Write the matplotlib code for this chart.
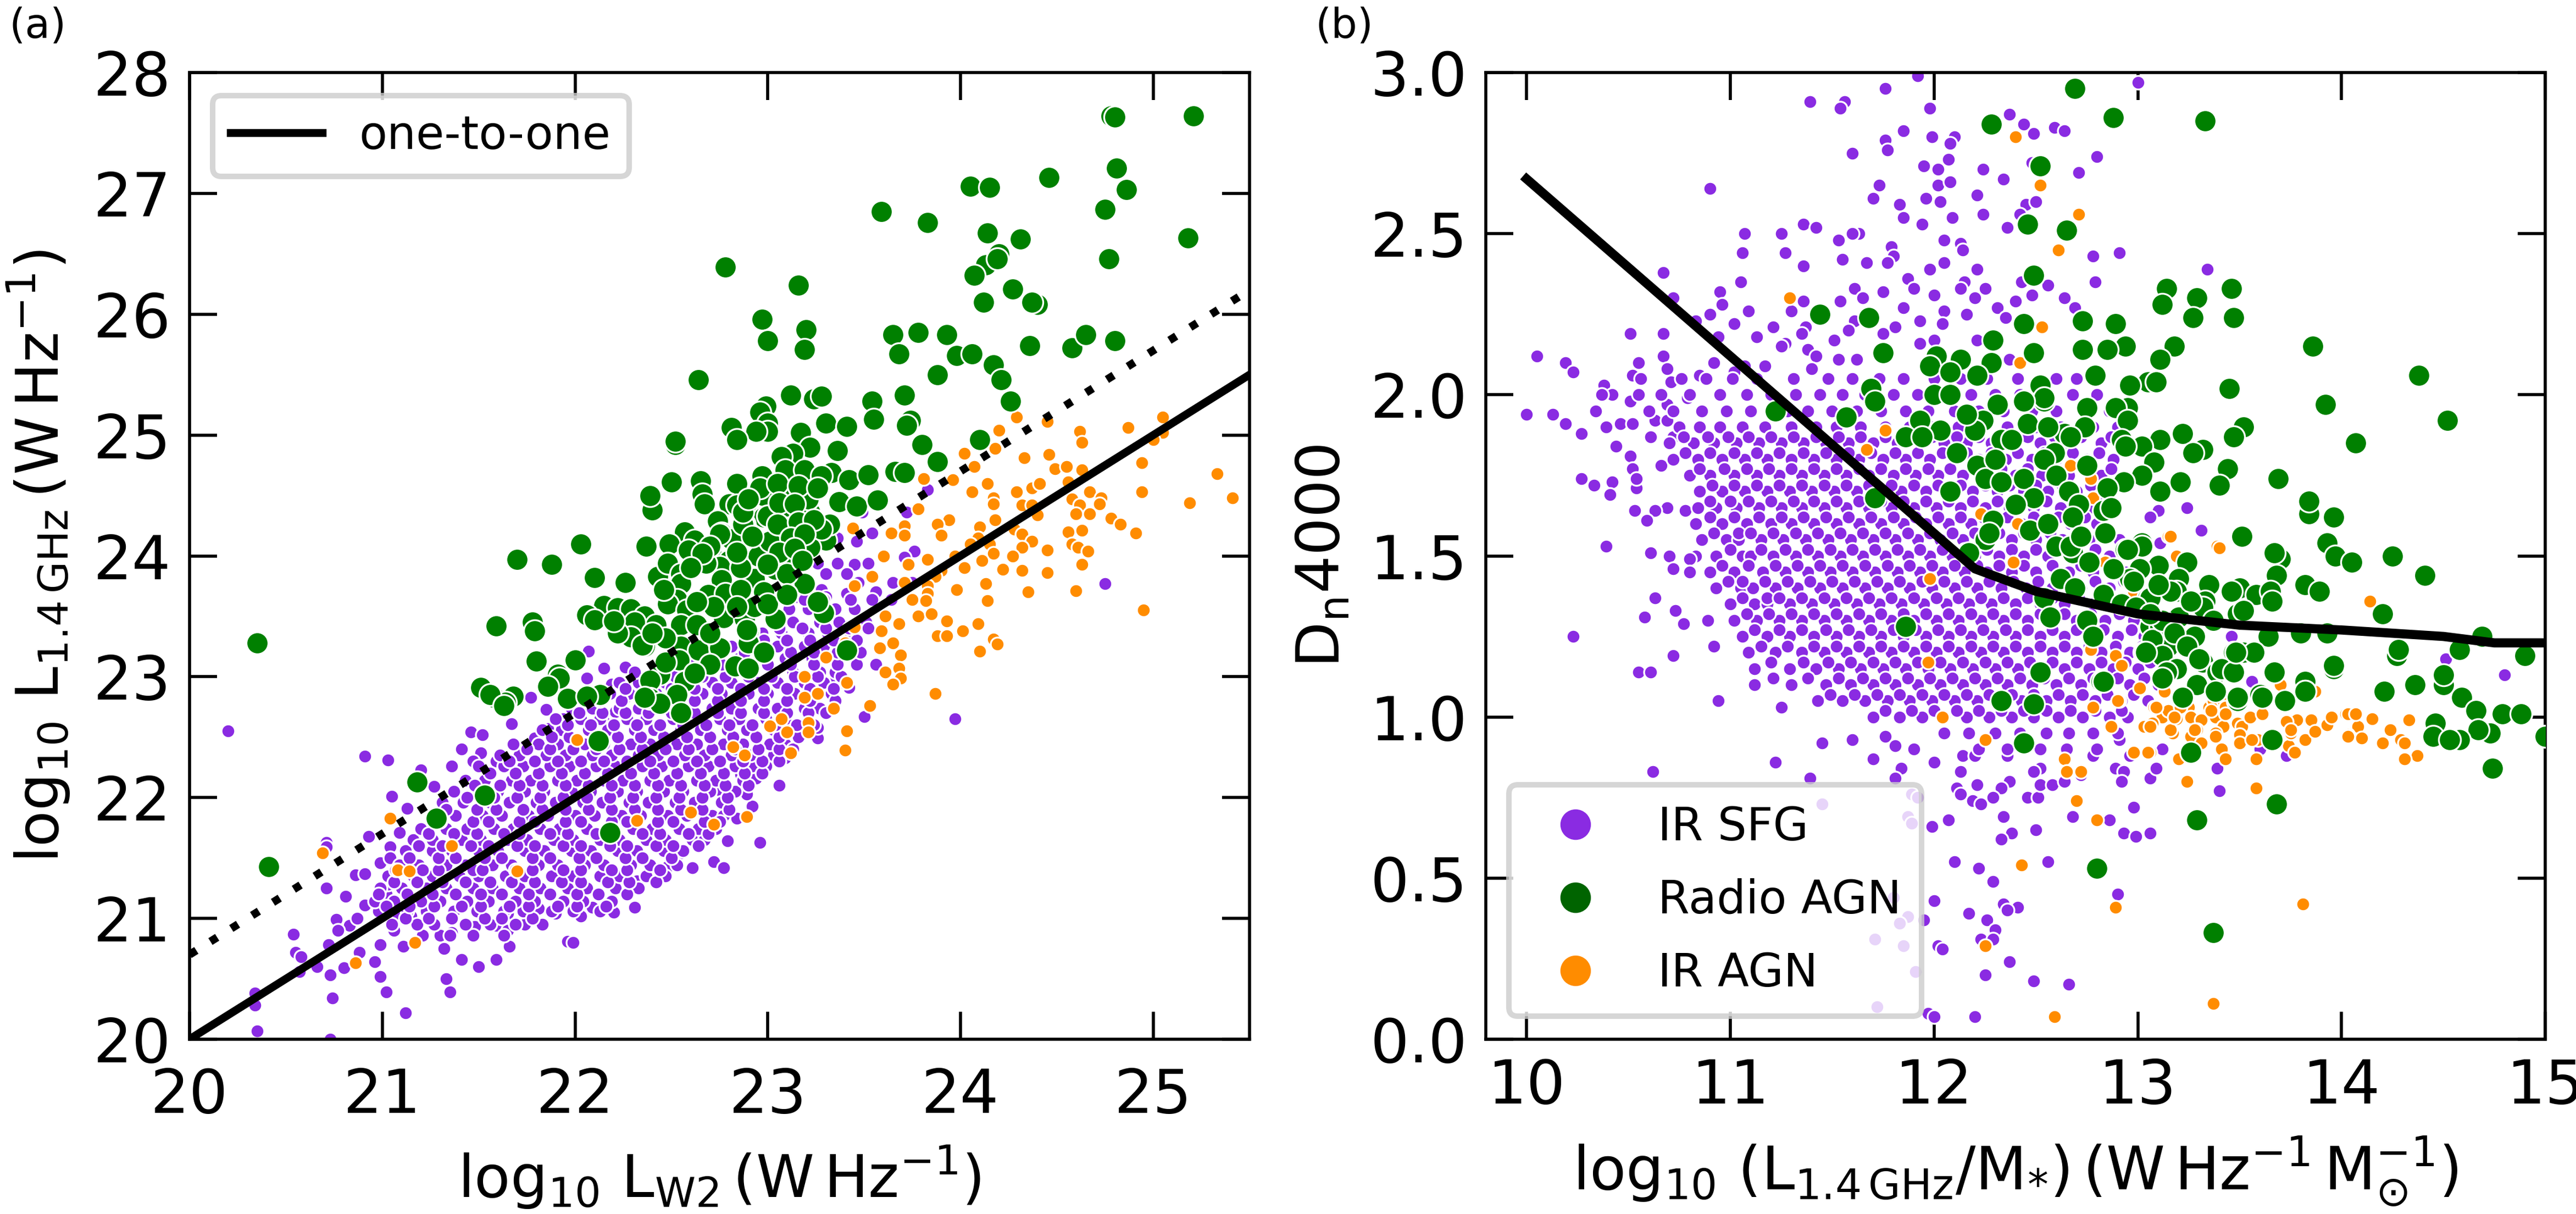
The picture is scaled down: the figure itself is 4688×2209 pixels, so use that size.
import numpy as np
import matplotlib
matplotlib.use('Agg')
import matplotlib.pyplot as plt
from matplotlib.lines import Line2D

plt.rcParams['mathtext.default'] = 'regular'

# ---- panel (a): log L_W2 vs log L_1.4GHz ----
green_a = [(24.78,27.64),(24.80,27.63),(25.21,27.64),(24.81,27.21),(24.46,27.13),(24.05,27.06),(24.15,27.05),(24.86,27.03),
(24.75,26.87),(23.59,26.85),(23.83,26.76),(24.14,26.67),(24.31,26.62),(25.18,26.63),(24.77,26.46),(24.2,26.5),(24.13,26.41),
(24.19,26.46),(24.07,26.32),(22.78,26.39),(23.16,26.24),(24.27,26.21),(24.4,26.08),(24.37,26.10),(24.12,26.10),(22.97,25.96),
(23.2,25.87),(23.0,25.78),(23.19,25.71),(23.65,25.83),(23.78,25.85),(23.93,25.83),(23.68,25.67),(23.98,25.66),(24.06,25.67),
(24.36,25.74),(24.58,25.72),(24.65,25.83),(24.8,25.78),(24.17,25.58),(24.21,25.46),(23.88,25.5),(22.64,25.46),(24.26,25.28),
(23.71,25.33),(23.24,25.3),(23.28,25.32),(23.12,25.33),(23.54,25.28),(22.99,25.24),(22.96,25.19),(23.55,25.13),(23.74,25.12),
(23.72,25.08),(23.3,25.1),(23.41,25.07),(23.0,25.1),(23.0,25.03),(22.94,25.03),(22.81,25.06),(22.84,24.96),(22.52,24.92),(22.52,24.95),
(23.17,25.02),(24.1,24.96),(23.8,24.92),(23.22,24.9),(23.36,24.87),(23.88,24.78),(23.13,24.85),(23.07,24.82),(23.09,24.71),
(23.33,24.69),(23.19,24.71),(23.28,24.66),(23.42,24.63),(23.52,24.67),(23.66,24.7),(23.71,24.69),(22.97,24.66),(22.5,24.61),
(22.65,24.62),(22.84,24.6),(22.4,24.38),(22.39,24.5),(22.66,24.51),(22.67,24.43),(22.8,24.43),(22.98,24.5),(23.37,24.45),(23.46,24.41),
(23.57,24.46),(23.13,24.5),(23.11,24.39),(23.17,24.36),(23.22,24.36),(23.21,24.47),(22.96,24.56),(22.84,24.42),(22.9,24.34),
(22.98,24.32),(22.74,24.29),(22.88,24.26),(22.76,24.19),(22.81,24.14),(23.01,24.11),(22.57,24.20),(22.62,24.13),(22.49,24.10),
(22.59,24.05),(22.37,24.08),(22.03,24.10),(21.70,23.97),(21.88,23.93),(22.10,23.82),(22.26,23.78),(22.43,23.83),(22.48,23.94),
(22.55,23.85),(22.55,23.77),(22.67,23.93),(22.72,23.98),(22.80,23.96),(22.75,23.91),(22.95,24.0),(22.76,23.80),(22.93,23.81),
(23.04,23.89),(22.69,23.68),(22.78,23.69),(22.53,23.64),(22.48,23.6),(22.58,23.55),(22.15,23.59),(22.22,23.57),(22.29,23.56),
(22.36,23.50),(22.06,23.51),(22.10,23.47),(21.78,23.45),(21.79,23.38),(21.59,23.42),(22.42,23.43),(22.31,23.45),(22.29,23.33),
(22.36,23.25),(22.55,23.43),(22.77,23.49),(22.88,23.48),(22.90,23.38),(23.04,23.48),(22.55,23.25),(22.64,23.22),(22.75,23.24),
(22.90,23.28),(22.54,23.14),(22.83,23.09),(22.90,23.07),(21.80,23.13),(22.0,23.14),(21.91,23.02),(21.92,22.99),(21.86,22.92),
(22.44,23.02),(22.39,22.97),(22.57,22.96),(22.13,22.85),(21.96,22.82),(21.68,22.84),(21.58,22.83),(21.64,22.79),(22.39,22.82),
(22.53,22.85),(22.44,22.78),(22.06,22.84),(21.51,22.91),(21.56,22.85),(21.63,22.76),(22.36,22.83),(22.55,22.70),(23.41,23.22),
(23.29,23.53),(22.89,23.39),(22.35,23.26),(20.35,23.28),(22.12,22.47),(21.18,22.13),(21.53,22.02),(21.28,21.83),(22.18,21.71),
(20.41,21.43),(23.27,24.18),(23.0,24.33),(22.87,24.26),(22.75,24.18),(23.01,24.12),(22.68,23.94),(23.3,24.13),(23.22,24.07),
(23.32,24.26),(23.1,23.97),(23.28,24.22),(22.87,24.36),(22.9,24.47),(23.1,24.23),(23.19,23.77),(23.1,23.85),
(23.05,24.6),(23.16,24.58),(23.26,24.56),(23.06,24.44),(23.14,24.43),(23.05,24.26),(23.16,24.28),(23.24,24.3),(23.12,24.15),(23.19,24.18),
(23.06,24.03),(23.14,24.06),(23.18,23.96),(23.0,23.93),(22.86,23.9),(22.84,24.03),(22.92,24.16),(22.7,24.08),(22.66,24.02),(22.6,23.9),
(22.86,23.72),(22.98,23.7),(22.93,23.58),(22.72,23.58),(22.84,23.58),(22.63,23.62),(22.46,23.72),(22.63,23.43),(22.7,23.36),(22.47,23.32),
(22.47,23.12),(22.7,23.1),(22.62,23.03),(23.0,23.6),(23.1,23.68),(22.98,23.2),(22.4,23.36),(22.22,23.36),(22.2,23.46),(23.26,23.62)]

orange_a = [(25.05,25.15),(24.87,25.06),(25.05,25.02),(25.0,24.96),(24.62,25.03),(24.63,24.94),(24.45,25.11),(24.29,25.15),(24.2,25.04),
(24.18,24.89),(24.02,24.85),(24.07,24.74),(24.33,24.81),(24.46,24.84),(24.94,24.77),(24.49,24.72),(24.55,24.74),(24.63,24.71),(25.33,24.68),
(23.81,24.64),(23.96,24.63),(24.14,24.6),(24.37,24.56),(24.41,24.6),(24.29,24.53),(24.06,24.53),(24.56,24.61),(24.67,24.53),(24.73,24.48),
(24.94,24.53),(24.58,24.47),(24.17,24.48),(24.17,24.43),(24.32,24.42),(24.37,24.42),(24.62,24.42),(24.72,24.43),(25.19,24.44),(25.41,24.48),
(23.78,24.39),(24.4,24.34),(24.6,24.35),(24.67,24.35),(23.94,24.3),(23.88,24.26),(24.18,24.3),(24.1,24.24),(23.9,24.17),(24.78,24.31),
(24.83,24.26),(24.91,24.19),(24.56,24.2),(24.63,24.21),(24.28,24.22),(24.32,24.18),(24.09,24.15),(23.44,24.23),(23.71,24.25),(23.64,24.19),
(23.71,24.17),(24.15,24.1),(24.05,24.1),(24.37,24.12),(24.32,24.07),(24.45,24.05),(24.58,24.1),(24.61,24.07),(24.66,24.04),(24.17,24.02),
(24.27,24.0),(23.6,24.0),(23.83,23.97),(23.97,24.0),(24.11,23.96),(23.73,23.93),(24.63,23.93),(24.02,23.9),(23.9,23.88),(24.22,23.89),
(24.32,23.88),(24.45,23.86),(23.54,23.83),(23.87,23.83),(23.71,23.78),(23.83,23.75),(23.98,23.72),(24.13,23.77),(24.35,23.7),(24.6,23.71),
(23.83,23.69),(23.75,23.64),(23.82,23.63),(24.14,23.63),(23.45,23.75),(24.95,23.55),(23.78,23.5),(23.85,23.52),(23.93,23.46),(24.09,23.44),
(24.01,23.38),(23.88,23.34),(23.93,23.34),(24.17,23.31),(24.19,23.27),(24.1,23.21),(23.61,23.5),(23.68,23.44),(23.59,23.38),(23.45,23.41),
(23.65,23.28),(23.58,23.24),(23.69,23.18),(23.4,23.28),(23.3,23.16),(23.68,23.07),(23.61,23.04),(23.69,22.99),(23.65,22.94),(23.87,22.86),
(23.19,23.0),(23.41,22.95),(23.26,22.86),(23.19,22.83),(23.34,22.74),(23.53,22.76),(23.07,22.65),(23.01,22.59),(23.21,22.62),(23.1,22.54),
(23.21,22.54),(23.41,22.55),(23.4,22.39),(23.12,22.37),(22.88,22.35),(22.82,22.42),(22.01,22.48),(22.89,21.84),(22.72,21.78),(21.04,21.83),
(20.69,21.54),(21.08,21.4),(21.14,21.39),(21.36,21.6),(21.17,20.8),(20.86,20.63),(21.7,21.39),(22.6,21.88),(22.32,21.81)]

purple_a = [(20.20,22.55),(20.91,22.34),(21.03,22.31),(20.34,20.38),(20.34,20.28),(20.35,20.07),(20.73,20.0),(20.74,20.34),(21.02,20.39),
(21.12,20.22),(21.35,20.39),(21.33,20.5),(20.99,20.52),(20.73,20.53),(20.57,20.56),(20.66,20.6),(20.8,20.59),(20.96,20.64),(20.54,20.87),
(20.55,20.72),(20.58,20.68),(20.72,20.78),(20.88,20.72),(20.99,20.78),(21.11,20.77),(20.76,20.99),(20.83,20.94),(20.87,21.0),(20.77,20.9),
(20.71,21.25),(20.81,21.18),(20.91,21.11),(20.86,21.36),(20.91,21.37),(20.71,21.63),(20.71,21.59),(20.93,21.68),(21.04,21.59),(20.99,21.46),
(21.04,21.5),(21.05,22.01),(21.13,21.91),(21.09,21.71),(21.2,22.23),(21.27,22.09),(21.36,22.26),(21.46,22.54),(21.52,22.52),(21.41,22.4),
(21.51,22.37),(21.47,22.3),(21.59,22.3),(21.67,22.61),(21.77,22.83),(21.7,22.42),(21.79,22.49),(21.86,22.57),(21.94,22.65),(21.85,22.73),
(22.07,23.21),(22.15,23.07),(22.06,22.99),(22.26,23.08),(22.19,22.94),(22.26,22.83),(22.1,22.75),(22.15,22.63),(22.21,22.71),
(22.31,21.09),(22.17,21.09),(22.2,21.05),(22.09,21.09),(22.03,21.02),(21.9,21.04),(21.81,21.08),(21.74,20.95),(21.65,21.04),(21.59,20.94),
(21.65,20.9),(21.48,20.93),(21.36,20.88),(21.3,20.86),(21.32,20.75),(21.66,20.77),(21.59,20.66),(21.5,20.6),(21.41,20.66),(21.96,20.81),
(21.99,20.8),(21.18,20.94),(21.25,20.99),(21.06,20.9),(21.15,21.02),(21.08,21.04),(21.02,21.2),(21.1,21.25),(21.03,21.28),(22.72,21.47),
(22.77,21.42),(22.61,21.42),(22.79,21.64),(22.96,21.63),(22.63,21.6),(22.55,21.54),(22.44,21.39),(22.32,21.31),(22.48,21.43),(22.75,21.84),
(22.84,21.83),(22.68,21.74),(22.92,21.93),(22.89,22.03),(22.81,22.03),(22.76,22.05),(22.94,22.16),(23.06,22.1),(22.86,22.19),(22.99,22.26),
(23.09,22.33),(23.26,22.49),(23.26,22.58),(23.5,22.67),(23.97,22.65),(23.56,23.1),(23.35,22.97),(23.42,22.91),(23.83,24.55),(23.72,24.36),
(23.49,24.36),(23.54,24.19),(23.46,24.12),(23.36,24.15),(23.76,24.04),(23.71,23.99),(23.36,23.94),(23.45,23.93),(23.52,23.94),(23.26,23.94),
(23.3,23.85),(23.41,23.85),(23.65,23.78),(23.47,23.78),(23.75,23.78),(24.75,23.77),(23.56,23.7),(23.28,23.72),(23.41,23.69),(23.3,23.66),
(23.15,23.66),(23.04,23.69),(23.64,23.64)]

# crowded part of the cloud, one row per log L_1.4GHz level
purple_a_levels = [20.86,20.95,21.06,21.14,21.25,21.35,21.44,21.56,21.65,21.74,21.85,21.96,22.05,22.14,22.26,22.35,22.44,22.56,22.65,
22.74,22.86,22.95,23.04,23.15,23.25,23.36,23.45,23.56,23.64,
21.0,21.1,21.2,21.3,21.4,21.5,21.6,21.7,21.8,21.9,22.0,22.1,22.2,22.3,22.4,22.5,22.6,22.7,22.8,22.9,23.0,23.1,23.2,23.3,23.4,23.5]
purple_a_rows = [
[21.21,21.35,21.47,21.63],
[21.05,21.18,21.27,21.43,21.56,21.69,21.83],
[20.98,21.13,21.23,21.37,21.49,21.63,21.73,21.88,21.99,22.13],
[20.96,21.06,21.2,21.3,21.44,21.55,21.69,21.79,21.94,22.04,22.19],
[20.99,21.1,21.23,21.33,21.47,21.57,21.71,21.82,21.96,22.06,22.21,22.33],
[21.03,21.16,21.26,21.4,21.5,21.64,21.74,21.88,21.99,22.13,22.23,22.37,22.47],
[21.09,21.19,21.33,21.43,21.57,21.67,21.81,21.91,22.05,22.15,22.29,22.39,22.53],
[21.12,21.26,21.36,21.5,21.6,21.74,21.84,21.98,22.08,22.22,22.32,22.46,22.56],
[21.16,21.26,21.41,21.51,21.65,21.75,21.89,21.99,22.13,22.23,22.37,22.47,22.61,22.67],
[21.2,21.33,21.44,21.58,21.68,21.82,21.92,22.06,22.16,22.3,22.4,22.54,22.64,22.73],
[21.27,21.38,21.52,21.62,21.76,21.86,22.0,22.1,22.24,22.34,22.48,22.58,22.71,22.77],
[21.31,21.42,21.56,21.66,21.8,21.9,22.04,22.14,22.28,22.38,22.52,22.62,22.76],
[21.37,21.5,21.6,21.74,21.84,21.98,22.08,22.22,22.32,22.46,22.56,22.7,22.83],
[21.43,21.53,21.67,21.77,21.91,22.01,22.15,22.25,22.39,22.49,22.63,22.73,22.87],
[21.5,21.63,21.73,21.87,21.97,22.11,22.21,22.35,22.45,22.59,22.69,22.83,22.92],
[21.61,21.71,21.85,21.95,22.09,22.19,22.33,22.43,22.57,22.67,22.81,22.91,23.03],
[21.68,21.81,21.91,22.05,22.15,22.29,22.39,22.53,22.63,22.77,22.87,23.01,23.09],
[21.83,21.93,22.07,22.17,22.31,22.41,22.55,22.65,22.79,22.89,23.03,23.13],
[21.9,22.03,22.13,22.27,22.37,22.51,22.61,22.75,22.85,22.99,23.09,23.21],
[21.98,22.09,22.23,22.33,22.47,22.57,22.71,22.81,22.95,23.05,23.19,23.27],
[22.05,22.18,22.28,22.42,22.52,22.66,22.76,22.9,23.0,23.14,23.24,23.33],
[22.23,22.33,22.47,22.57,22.71,22.81,22.95,23.05,23.19,23.29,23.39],
[22.31,22.41,22.55,22.65,22.79,22.89,23.03,23.13,23.27,23.35],
[22.51,22.61,22.75,22.85,22.99,23.09,23.23,23.33,23.45],
[22.71,22.81,22.95,23.05,23.19,23.29,23.41],
[22.97,23.07,23.21,23.31,23.43],
[23.03,23.13,23.27,23.37,23.51],
[23.11,23.21,23.35,23.45],
[23.19,23.29,23.43,23.54],
[21.12,21.24,21.36,21.53,21.62,21.78],
[21.02,21.14,21.27,21.41,21.51,21.66,21.76,21.91,22.01,22.16],
[20.98,21.13,21.26,21.38,21.51,21.62,21.76,21.87,22.01,22.12,22.27],
[21.06,21.18,21.31,21.43,21.56,21.67,21.79,21.93,22.03,22.17,22.28,22.42],
[21.07,21.21,21.29,21.47,21.52,21.69,21.78,21.94,22.03,22.19,22.27,22.44],
[21.14,21.29,21.38,21.53,21.62,21.78,21.87,22.02,22.11,22.26,22.35,22.5],
[21.19,21.31,21.46,21.55,21.7,21.79,21.94,22.03,22.18,22.27,22.42,22.51,22.64],
[21.24,21.37,21.49,21.63,21.71,21.87,21.96,22.11,22.19,22.35,22.44,22.59,22.69],
[21.3,21.47,21.55,21.71,21.79,21.95,22.03,22.19,22.27,22.43,22.51,22.67,22.75],
[21.33,21.49,21.59,21.73,21.83,21.95,22.07,22.19,22.31,22.43,22.55,22.66,22.8],
[21.44,21.58,21.7,21.82,21.94,22.06,22.18,22.3,22.42,22.54,22.66,22.79],
[21.48,21.61,21.71,21.83,21.95,22.07,22.19,22.31,22.43,22.55,22.67,22.78,22.9],
[21.56,21.69,21.81,21.93,22.05,22.17,22.29,22.41,22.53,22.65,22.77,22.88,22.97],
[21.66,21.79,21.91,22.03,22.15,22.27,22.39,22.51,22.63,22.75,22.87,22.97,23.06],
[21.75,21.87,21.99,22.11,22.23,22.35,22.47,22.59,22.71,22.83,22.95,23.06,23.13],
[21.88,21.97,22.12,22.22,22.34,22.46,22.58,22.7,22.82,22.94,23.06,23.16],
[21.96,22.08,22.2,22.32,22.44,22.56,22.68,22.8,22.92,23.04,23.15,23.24],
[22.02,22.14,22.26,22.38,22.5,22.62,22.74,22.86,22.98,23.1,23.21,23.3],
[22.13,22.24,22.38,22.5,22.62,22.74,22.86,22.98,23.1,23.22,23.35],
[22.26,22.38,22.5,22.62,22.74,22.86,22.98,23.1,23.22,23.34],
[22.4,22.52,22.66,22.78,22.9,23.02,23.14,23.26,23.38],
[22.62,22.76,22.88,23.0,23.12,23.24,23.36,23.46],
[22.88,23.0,23.12,23.24,23.36,23.48],
[22.98,23.1,23.22,23.34,23.46],
[23.06,23.18,23.3,23.42,23.52]]

# ---- panel (b): log L/M vs Dn4000 ----
green_b = [(12.69,2.95),(12.88,2.86),(13.33,2.85),(12.28,2.84),(12.52,2.71),(12.46,2.53),(12.65,2.51),(12.49,2.37),(13.14,2.33),(13.46,2.33),
(13.29,2.30),(13.12,2.28),(13.27,2.24),(13.47,2.24),(11.44,2.25),(11.68,2.24),(12.73,2.23),(12.89,2.22),(12.44,2.22),(12.29,2.17),(12.94,2.15),
(13.18,2.15),(13.86,2.15),(12.73,2.14),(12.85,2.14),(12.49,2.13),(11.75,2.13),(12.01,2.12),(12.13,2.11),(13.11,2.11),(12.28,2.10),(11.98,2.09),
(12.08,2.07),(12.21,2.06),(12.79,2.06),(14.38,2.06),(13.05,2.04),(13.09,2.04),(13.45,2.02),(12.96,2.03),(12.52,2.03),(11.69,2.02),(11.71,1.98),
(12.0,2.0),(12.08,2.0),(12.54,1.98),(12.54,1.99),(13.92,1.97),(12.31,1.97),(12.44,1.98),(12.75,1.96),(12.95,1.96),(12.89,1.96),(11.22,1.95),
(11.57,1.93),(12.95,1.92),(14.52,1.92),(11.93,1.92),(12.24,1.92),(12.46,1.91),(13.52,1.90),(12.74,1.90),(12.03,1.89),(12.2,1.89),(13.47,1.87),
(13.22,1.88),(13.11,1.86),(12.64,1.88),(12.67,1.87),(12.92,1.86),(11.86,1.87),(11.94,1.87),(12.33,1.86),(12.38,1.86),(14.07,1.85),(13.02,1.84),
(12.94,1.84),(13.32,1.83),(13.27,1.82),(12.59,1.82),(12.11,1.82),(12.54,1.80),(13.08,1.79),(12.21,1.78),(13.44,1.77),(13.69,1.74),(12.25,1.74),
(12.33,1.73),(12.44,1.74),(12.6,1.75),(13.02,1.75),(12.93,1.73),(13.21,1.73),(13.40,1.72),(12.66,1.70),(12.85,1.71),(13.11,1.70),(12.08,1.70),
(11.71,1.68),(12.49,1.68),(13.84,1.63),(13.84,1.67),(13.96,1.62),(12.71,1.66),(12.83,1.64),(12.87,1.65),(12.68,1.62),(12.29,1.61),(12.25,1.55),
(12.27,1.57),(12.47,1.58),(12.84,1.57),(13.51,1.56),(12.6,1.53),(12.68,1.51),(12.67,1.53),(13.02,1.54),(13.93,1.54),(12.94,1.52),(13.70,1.49),
(13.67,1.51),(13.97,1.50),(14.05,1.48),(14.25,1.5),(12.17,1.51),(13.24,1.48),(13.1,1.47),(13.01,1.46),(13.68,1.44),(14.41,1.44),(12.62,1.43),
(13.2,1.43),(12.96,1.43),(12.69,1.40),(13.35,1.41),(13.82,1.41),(13.89,1.39),(13.5,1.40),(13.46,1.39),(13.58,1.38),(13.65,1.39),(13.19,1.39),
(13.05,1.37),(12.54,1.37),(12.83,1.38),(13.66,1.36),(13.33,1.36),(12.84,1.57),(13.02,1.53),(12.95,1.52),(13.16,1.39),(13.06,1.37),(12.92,1.35),
(12.99,1.34),(13.32,1.34),(13.49,1.32),(13.52,1.33),(13.37,1.30),(12.75,1.30),(13.06,1.28),(13.11,1.28),(13.2,1.31),(13.28,1.25),(13.64,1.25),
(13.8,1.26),(13.93,1.26),(12.78,1.25),(13.15,1.22),(13.07,1.24),(13.03,1.2),(13.12,1.19),(13.47,1.2),(13.52,1.2),(13.57,1.2),(13.19,1.15),
(13.32,1.17),(13.39,1.14),(13.41,1.15),(13.47,1.14),(13.67,1.14),(13.96,1.15),(13.14,1.14),(12.82,1.11),(13.29,1.1),(13.82,1.11),(13.82,1.08),
(13.6,1.07),(13.49,1.05),(13.72,1.05),(13.66,0.93),(13.26,0.89),(14.2,1.32),(14.69,1.25),(14.27,1.19),(14.28,1.21),(14.9,1.19),(14.58,1.21),
(13.96,1.16),(14.5,1.1),(14.5,1.13),(14.36,1.1),(14.21,1.08),(14.59,1.06),(14.66,1.02),(14.79,1.01),(14.88,1.01),(14.46,0.98),(14.45,0.94),
(15.0,0.94),(14.73,0.95),(14.67,0.96),(14.58,0.93),(14.53,0.93),(14.74,0.84),(12.44,0.92),(13.68,0.73),(13.29,0.68),(12.80,0.53),(13.37,0.33),
(11.86,1.28),(12.52,1.14),(12.83,1.11),(12.33,1.05),(12.49,1.04),(12.57,1.31),(12.75,1.3),(12.78,1.25),(13.48,1.2),(13.04,1.2),(13.49,1.06),
(13.61,1.06),(13.82,1.08),(13.12,1.3),(13.06,1.32),(13.18,1.26),(13.24,1.22),(13.12,1.12),(13.22,1.06),(13.3,1.18),(13.38,1.08),(12.98,1.42),
(13.1,1.41),(13.26,1.36),(12.88,1.46),(12.76,1.48),(12.72,1.56),(12.56,1.6),(12.4,1.66),(12.56,1.9),(12.16,1.94),(12.3,1.8),(12.75,1.78)]

orange_b = [(11.29,2.30),(12.40,2.80),(12.52,2.65),(12.71,2.56),(12.61,2.45),(12.53,2.21),(12.42,2.10),(11.76,1.89),(11.67,1.83),(13.15,1.56),
(13.39,1.53),(12.39,1.48),(11.98,1.43),(14.14,1.36),(12.77,1.74),(12.67,1.78),(12.78,1.68),(12.23,1.63),(12.41,1.6),(13.4,1.525),(13.16,1.56),
(12.84,1.48),(13.19,1.5),(12.98,1.39),(12.89,1.19),(12.77,1.21),(12.92,1.16),(13.01,1.09),(13.13,1.08),(12.91,1.05),(12.78,1.03),(13.08,1.03),
(13.25,1.03),(13.19,0.995),(13.12,1.0),(13.15,1.02),(13.21,1.03),(13.26,1.0),(13.31,0.99),(13.35,1.03),(13.37,1.05),(13.42,1.05),(13.43,1.03),
(13.38,1.0),(13.07,0.98),(13.03,0.97),(12.87,0.97),(13.17,0.95),(13.29,0.96),(13.42,0.97),(13.49,0.98),(13.51,0.97),(13.38,0.95),(13.55,1.0),
(13.61,1.01),(13.5,0.945),(13.26,0.94),(13.31,0.92),(13.5,0.92),(13.41,0.9),(13.59,0.93),(13.56,0.93),(13.43,0.87),(13.58,0.87),(13.06,0.89),
(12.98,0.89),(13.2,0.87),(13.74,0.91),(13.77,0.89),(13.75,0.95),(13.78,0.99),(13.85,0.99),(13.73,0.985),(13.82,0.93),(13.87,0.955),(13.93,0.975),
(13.95,1.0),(14.02,1.01),(14.06,1.01),(14.08,0.97),(14.03,0.945),(14.1,0.935),(14.15,0.995),(13.24,0.8),(13.58,0.78),(13.7,1.1),(13.87,1.08),
(14.03,1.01),(14.07,1.01),(14.33,0.99),(14.03,0.94),(14.2,0.92),(14.24,0.96),(14.29,0.93),(14.31,0.92),(14.37,0.88),(14.31,0.87),(13.75,0.96),
(12.7,0.74),(12.8,0.68),(12.43,0.54),(13.81,0.42),(12.89,0.41),(12.25,0.29),(13.37,0.11),(12.59,0.07),(12.04,1.0),(11.97,1.17),(12.25,0.93),
(12.64,0.87),(12.65,0.83),(12.72,0.83),(13.05,0.89),(13.06,0.97),(13.01,1.09),(12.9,1.05),(13.09,1.03),(13.16,0.96),(13.28,0.96),(13.38,0.94),
(13.43,1.01),(13.36,1.02),(13.18,1.0)]

purple_b = [(11.92,2.99),(13.0,2.97),(11.76,2.95),(11.39,2.91),(11.56,2.91),(11.54,2.89),(11.98,2.89),(12.37,2.87),(12.44,2.84),(12.49,2.81),(12.59,2.83),
(12.64,2.82),(11.85,2.82),(11.76,2.79),(11.99,2.8),(12.1,2.8),(12.08,2.78),(11.77,2.76),(11.6,2.75),(12.8,2.74),(12.07,2.73),(11.95,2.71),(12.02,2.7),
(12.24,2.7),(12.48,2.72),(12.71,2.69),(12.34,2.67),(11.73,2.65),(12.02,2.65),(12.08,2.66),(10.9,2.64),(12.21,2.62),(11.7,2.61),(11.96,2.61),(12.03,2.6),
(12.45,2.59),(12.5,2.6),(11.83,2.59),(12.24,2.56),(12.09,2.55),(11.85,2.55),(11.94,2.53),(12.36,2.52),(12.42,2.56),(11.36,2.53),(11.42,2.52),(11.63,2.5),
(11.6,2.5),(11.07,2.5),(11.25,2.5),(11.53,2.48),(12.05,2.48),(12.13,2.47),(11.79,2.46),(12.14,2.45),(11.06,2.44),(11.27,2.44),(12.78,2.43),(12.91,2.44),
(11.8,2.43),(11.55,2.42),(11.67,2.41),(11.77,2.41),(12.05,2.41),(11.36,2.4),(11.98,2.39),(12.21,2.39),(10.67,2.38),(13.34,2.39),(11.87,2.36),(12.15,2.35),
(11.05,2.35),(12.79,2.35),(12.13,2.33),(12.25,2.33),(12.43,2.35),(12.56,2.34),(11.61,2.33),(11.75,2.32),(11.9,2.33),(10.95,2.32),(12.48,2.31),(10.72,2.3),
(12.0,2.31),(12.64,2.3),(12.4,2.29),(11.65,2.3),(11.36,2.29),(11.54,2.29),(12.2,2.3),(10.96,2.28),(11.85,2.27),(12.05,2.26),(12.31,2.27),(11.09,2.26),
(11.3,2.26),(12.69,2.27),(10.9,2.25),(12.16,2.25),(12.35,2.24),(11.61,2.23),(11.93,2.23),(10.83,2.23),(11.02,2.22),(12.04,2.22),(11.37,2.21),(11.81,2.21),
(11.21,2.21),(11.58,2.2),(10.51,2.19),(10.67,2.19),(11.35,2.19),(11.75,2.19),(10.94,2.18),(11.13,2.18),(12.21,2.17),(12.0,2.17),(11.51,2.17),(11.27,2.16),
(11.93,2.16),(11.25,2.15),(11.38,2.14),(10.05,2.12),(10.67,2.12),(10.55,2.1),(10.19,2.1),(10.23,2.07),(10.92,2.1),(11.07,2.09),(11.17,2.09),(11.42,2.12),
(11.53,2.11),(11.62,2.11),(12.37,2.11),(11.4,2.08),(10.69,2.08),(10.85,2.06),(11.02,2.07),(10.52,2.06),(10.56,2.05),(10.71,2.04),(10.38,2.03),(10.42,2.0),
(10.37,2.0),(10.51,1.98),(10.69,1.97),(10.79,1.99),(10.34,1.95),(10.0,1.94),(10.13,1.94),(10.19,1.91),(10.27,1.88),(10.39,1.9),(10.46,1.91),(10.52,1.91),
(10.63,1.92),(10.69,1.92),(10.44,1.84),(10.61,1.87),(10.72,1.87),(10.51,1.81),(10.52,1.77),(10.66,1.78),(10.27,1.74),(10.33,1.72),(10.42,1.73),(10.41,1.69),
(10.54,1.71),(10.54,1.74),(10.53,1.64),(10.69,1.65),(10.63,1.64),(10.59,1.61),(10.78,1.64),(10.39,1.53),(10.61,1.51),(10.7,1.5),(10.83,1.5),(10.8,1.49),
(10.72,1.46),(10.8,1.45),(10.63,1.37),(13.1,1.64),(13.24,1.65),(13.06,1.62),(13.31,1.58),(13.11,1.54),
(10.23,1.25),(10.58,1.31),(10.73,1.33),(10.77,1.29),(10.89,1.3),(10.92,1.22),(10.72,1.19),(10.55,1.14),(10.61,1.14),(10.94,1.05),(11.25,1.03),(11.45,0.92),
(11.6,0.93),(11.76,0.94),(11.81,0.91),(11.9,0.9),(11.22,0.86),(10.62,0.83),(11.39,0.81),(11.7,0.87),(11.84,0.84),(11.81,0.81),(12.0,0.86),(12.13,0.83),
(12.14,0.88),(12.2,0.88),(12.36,0.88),(12.52,0.84),(12.49,0.83),(12.37,0.8),(12.33,0.78),(12.21,0.79),(12.11,0.78),(12.13,0.76),(12.19,0.74),(12.23,0.73),
(12.29,0.75),(12.46,0.75),(12.51,0.75),(12.52,0.79),(12.58,0.79),(12.64,0.8),(12.72,0.82),(12.89,0.84),(12.93,0.83),(12.92,0.8),(13.06,0.81),(13.09,0.84),
(13.39,0.84),(13.4,0.77),(12.96,0.88),(13.12,0.9),(12.78,0.88),(12.91,0.93),(11.89,0.76),(11.92,0.75),(11.45,0.73),(12.34,0.69),(12.07,0.68),(11.99,0.66),
(11.87,0.69),(11.89,0.67),(12.68,0.69),(12.86,0.68),(12.98,0.72),(12.38,0.64),(12.5,0.65),(12.33,0.62),(12.93,0.64),(12.99,0.63),(13.06,0.64),(12.1,0.55),
(12.22,0.53),(12.56,0.55),(12.29,0.49),(12.9,0.45),(12.0,0.43),(11.8,0.44),(12.34,0.42),(12.41,0.41),(12.36,0.4),(12.17,0.39),(12.26,0.37),(11.95,0.37),
(11.87,0.38),(11.83,0.36),(12.3,0.34),(12.23,0.31),(12.29,0.31),(11.71,0.31),(11.85,0.29),(12.02,0.29),(12.04,0.28),(12.37,0.24),(11.91,0.21),(12.25,0.2),
(12.49,0.18),(12.66,0.17),(11.72,0.1),(11.97,0.08),(12.0,0.07),(12.2,0.07),(14.51,1.18),(14.8,1.13),(13.56,1.11),(13.73,0.88),(13.6,0.9),(13.46,1.25)]

# crowded part of the cloud, one row per Dn4000 level
purple_b_levels = [2.05,2.0,1.95,1.9,1.85,1.8,1.75,1.7,1.65,1.6,1.55,1.5,1.45,1.4,1.35,1.3,1.25,1.2,1.15,1.1,1.05,1.0,0.95,0.9,
1.87,1.82,1.77,1.72,1.67,1.62,1.57,1.52,1.47,1.42,1.37,1.32,1.27,1.22,1.17,1.12,1.07,1.02]
purple_b_rows = [
[10.76,10.88,11.01,11.13,11.31,11.48,11.6,11.73,11.85,12.0,12.13,12.26,12.41,12.6,12.7],
[10.55,10.66,10.8,10.95,11.08,11.2,11.32,11.44,11.55,11.66,11.8,11.92,12.04,12.18,12.3,12.42,12.56,12.68,12.8],
[10.6,10.72,10.86,10.98,11.1,11.28,11.38,11.5,11.62,11.74,11.86,11.97,12.1,12.22,12.34,12.48,12.6,12.76,12.86],
[10.75,10.85,10.95,11.06,11.17,11.3,11.42,11.52,11.64,11.76,11.88,11.99,12.12,12.24,12.36,12.5,12.62,12.78,12.9],
[10.7,10.82,10.92,11.03,11.14,11.25,11.36,11.47,11.58,11.7,11.82,11.93,12.05,12.16,12.28,12.4,12.52,12.66,12.82,12.93],
[10.72,10.84,10.96,11.07,11.18,11.3,11.41,11.52,11.63,11.75,11.86,11.98,12.1,12.22,12.35,12.48,12.6,12.75,12.88],
[10.8,10.9,11.02,11.13,11.24,11.35,11.46,11.57,11.68,11.8,11.91,12.02,12.14,12.27,12.4,12.53,12.66,12.82],
[10.85,10.96,11.07,11.18,11.29,11.4,11.51,11.62,11.73,11.84,11.96,12.07,12.19,12.31,12.44,12.56,12.7,12.83],
[10.84,10.93,11.03,11.14,11.25,11.35,11.46,11.57,11.68,11.79,11.9,12.01,12.13,12.25,12.37,12.49,12.62,12.76,12.89],
[10.83,10.96,11.08,11.2,11.3,11.41,11.52,11.63,11.74,11.85,11.96,12.07,12.18,12.3,12.43,12.55,12.67,12.8],
[10.86,10.98,11.04,11.15,11.26,11.37,11.48,11.59,11.7,11.81,11.92,12.03,12.14,12.26,12.38,12.5,12.63,12.76,12.91],
[10.93,11.06,11.1,11.21,11.32,11.43,11.54,11.65,11.76,11.87,11.98,12.09,12.2,12.32,12.44,12.56,12.72,12.86,13.0],
[10.9,11.02,11.16,11.27,11.38,11.49,11.6,11.71,11.82,11.93,12.04,12.15,12.26,12.38,12.5,12.66,12.78,12.94],
[10.93,11.05,11.11,11.22,11.33,11.44,11.55,11.66,11.77,11.88,11.99,12.1,12.21,12.33,12.45,12.58,12.72,12.86,13.0],
[11.0,11.12,11.18,11.29,11.4,11.51,11.62,11.73,11.84,11.95,12.06,12.17,12.28,12.4,12.52,12.64,12.78,12.92,13.06],
[11.02,11.13,11.24,11.35,11.46,11.57,11.68,11.79,11.9,12.01,12.12,12.23,12.34,12.46,12.58,12.7,12.84,12.98],
[11.06,11.18,11.29,11.41,11.52,11.63,11.74,11.85,11.96,12.07,12.18,12.29,12.4,12.52,12.64,12.76,12.9,13.03,13.12],
[11.09,11.22,11.35,11.46,11.57,11.68,11.79,11.9,12.01,12.12,12.23,12.34,12.46,12.58,12.7,12.82,12.96,13.08],
[11.12,11.29,11.42,11.53,11.64,11.75,11.86,11.97,12.08,12.19,12.3,12.41,12.52,12.64,12.76,12.88,13.0],
[11.12,11.3,11.47,11.59,11.7,11.81,11.92,12.03,12.14,12.25,12.36,12.48,12.6,12.72,12.84,12.96,13.1],
[11.43,11.55,11.66,11.77,11.88,11.99,12.1,12.21,12.32,12.43,12.55,12.67,12.79,12.92,13.05],
[11.7,11.83,11.94,12.05,12.16,12.27,12.38,12.49,12.61,12.73,12.86,12.95],
[12.05,12.17,12.3,12.42,12.55,12.66,12.78,12.9],
[12.22,12.36,12.52,12.65,12.8],
[10.77,10.89,10.99,11.09,11.2,11.31,11.42,11.53,11.64,11.76,11.87,11.99,12.11,12.22,12.34,12.46,12.59,12.72,12.87],
[10.78,10.9,11.02,11.13,11.24,11.36,11.47,11.58,11.69,11.81,11.92,12.04,12.16,12.28,12.41,12.54,12.68,12.81],
[10.85,10.97,11.08,11.19,11.3,11.41,11.52,11.63,11.74,11.86,11.97,12.08,12.2,12.33,12.46,12.59,12.73,12.87],
[10.91,11.02,11.13,11.24,11.35,11.46,11.57,11.68,11.79,11.9,12.02,12.13,12.25,12.37,12.5,12.63,12.77],
[10.9,11.0,11.09,11.2,11.31,11.41,11.52,11.63,11.74,11.85,11.96,12.07,12.19,12.31,12.43,12.55,12.69,12.83],
[10.9,11.02,11.14,11.25,11.36,11.47,11.58,11.69,11.8,11.91,12.02,12.13,12.24,12.36,12.49,12.61,12.74],
[10.92,11.04,11.1,11.21,11.32,11.43,11.54,11.65,11.76,11.87,11.98,12.09,12.2,12.32,12.44,12.57,12.7,12.84],
[11.0,11.15,11.27,11.38,11.49,11.6,11.71,11.82,11.93,12.04,12.15,12.26,12.38,12.5,12.62,12.79,12.93],
[10.96,11.09,11.22,11.33,11.44,11.55,11.66,11.77,11.88,11.99,12.1,12.21,12.32,12.44,12.58,12.72,12.88],
[10.99,11.06,11.17,11.28,11.39,11.5,11.61,11.72,11.83,11.94,12.05,12.16,12.27,12.39,12.51,12.65,12.79,12.93],
[11.06,11.18,11.24,11.35,11.46,11.57,11.68,11.79,11.9,12.01,12.12,12.23,12.34,12.46,12.58,12.71,12.85,12.99],
[11.08,11.19,11.3,11.41,11.52,11.63,11.74,11.85,11.96,12.07,12.18,12.29,12.4,12.52,12.64,12.77,12.91,13.05],
[11.12,11.24,11.35,11.47,11.58,11.69,11.8,11.91,12.02,12.13,12.24,12.35,12.46,12.58,12.7,12.83,12.97,13.08],
[11.15,11.28,11.41,11.52,11.63,11.74,11.85,11.96,12.07,12.18,12.29,12.4,12.52,12.64,12.76,12.89,13.02],
[11.2,11.36,11.48,11.59,11.7,11.81,11.92,12.03,12.14,12.25,12.36,12.47,12.58,12.7,12.82,12.94,13.06],
[11.21,11.38,11.53,11.65,11.76,11.87,11.98,12.09,12.2,12.31,12.42,12.54,12.66,12.78,12.9,13.03],
[11.49,11.61,11.72,11.83,11.94,12.05,12.16,12.27,12.38,12.49,12.61,12.73,12.85,12.98],
[11.76,11.89,12.0,12.11,12.22,12.33,12.44,12.55,12.67,12.79,12.92]]

line_a_x = [20, 25.5]
line_a_y = [20, 25.5]
dotted_a_y = [20.7, 26.2]

curve_b_x = [10, 12.2, 12.5, 13, 13.5, 14, 14.5, 14.75, 15]
curve_b_y = [2.67, 1.46, 1.39, 1.32, 1.285, 1.27, 1.25, 1.23, 1.23]

legend_names = ['IR SFG', 'Radio AGN', 'IR AGN']


def rows_to_xy(levels, rows):
    xs, ys = [], []
    for lev, row in zip(levels, rows):
        for x in row:
            xs.append(x)
            ys.append(lev)
    return xs, ys


def scatter_groups(ax, purple, levels, rows, orange, green):
    xs, ys = rows_to_xy(levels, rows)
    px, py = zip(*purple)
    ax.scatter(list(px) + xs, list(py) + ys, s=20, c='blueviolet', edgecolors='white', linewidths=0.6, zorder=2)
    ox, oy = zip(*orange)
    ax.scatter(ox, oy, s=20, c='darkorange', edgecolors='white', linewidths=0.6, zorder=2.5)
    gx, gy = zip(*green)
    ax.scatter(gx, gy, s=52, c='green', edgecolors='white', linewidths=0.6, zorder=3)


fig = plt.figure(figsize=(11.72, 5.5225), dpi=400)

ax1 = fig.add_axes([0.0736, 0.144, 0.4115, 0.7962])
scatter_groups(ax1, purple_a, purple_a_levels, purple_a_rows, orange_a, green_a)
ax1.plot(line_a_x, line_a_y, color='k', lw=2.6, zorder=4, label='one-to-one')
ax1.plot(line_a_x, dotted_a_y, color='k', lw=2.6, ls=(0, (1, 2.1)), zorder=4)
ax1.set_xlim(20, 25.5)
ax1.set_ylim(20, 28)
ax1.set_xticks([20, 21, 22, 23, 24, 25])
ax1.set_yticks([20, 21, 22, 23, 24, 25, 26, 27, 28])
ax1.set_xlabel(r'$log_{10}\ L_{W2}\,(W\,Hz^{-1})$', fontsize=19.3, labelpad=6)
ax1.set_ylabel(r'$log_{10}\ L_{1.4\,GHz}\,(W\,Hz^{-1})$', fontsize=19.3, labelpad=7)
leg1 = ax1.legend(loc='upper left', fontsize=15)
leg1.get_frame().set_linewidth(1.8)

ax2 = fig.add_axes([0.5768, 0.144, 0.4113, 0.7962])
scatter_groups(ax2, purple_b, purple_b_levels, purple_b_rows, orange_b, green_b)
ax2.plot(curve_b_x, curve_b_y, color='k', lw=3, zorder=4)
ax2.set_xlim(9.8, 15)
ax2.set_ylim(0, 3)
ax2.set_xticks([10, 11, 12, 13, 14, 15])
ax2.set_yticks([0, 0.5, 1.0, 1.5, 2.0, 2.5, 3.0])
ax2.set_xlabel(r'$log_{10}\ (L_{1.4\,GHz}/M_{*})\,(W\,Hz^{-1}\,M_{\odot}^{-1})$', fontsize=19.5, labelpad=6)
ax2.set_ylabel(r'$D_{n}4000$', fontsize=19.5, labelpad=6)
handles = [Line2D([], [], ls='', marker='o', ms=9, color=c) for c in ['blueviolet', 'darkgreen', 'darkorange']]
leg2 = ax2.legend(handles, legend_names, loc='lower left', fontsize=15, labelspacing=0.62, borderpad=0.45)
leg2.set_zorder(5)
leg2.get_frame().set_linewidth(1.8)

for ax, pad in [(ax1, 9), (ax2, 6)]:
    ax.tick_params(direction='in', top=True, right=True, length=9, width=1, labelsize=20)
    ax.tick_params(axis='x', pad=pad)
    ax.tick_params(axis='y', pad=6)
    for sp in ax.spines.values():
        sp.set_linewidth(1.0)

fig.text(0.0035, 0.978, '(a)', fontsize=13.5, va='center')
fig.text(0.5105, 0.978, '(b)', fontsize=13.5, va='center')

fig.savefig('out.png', dpi=400)
